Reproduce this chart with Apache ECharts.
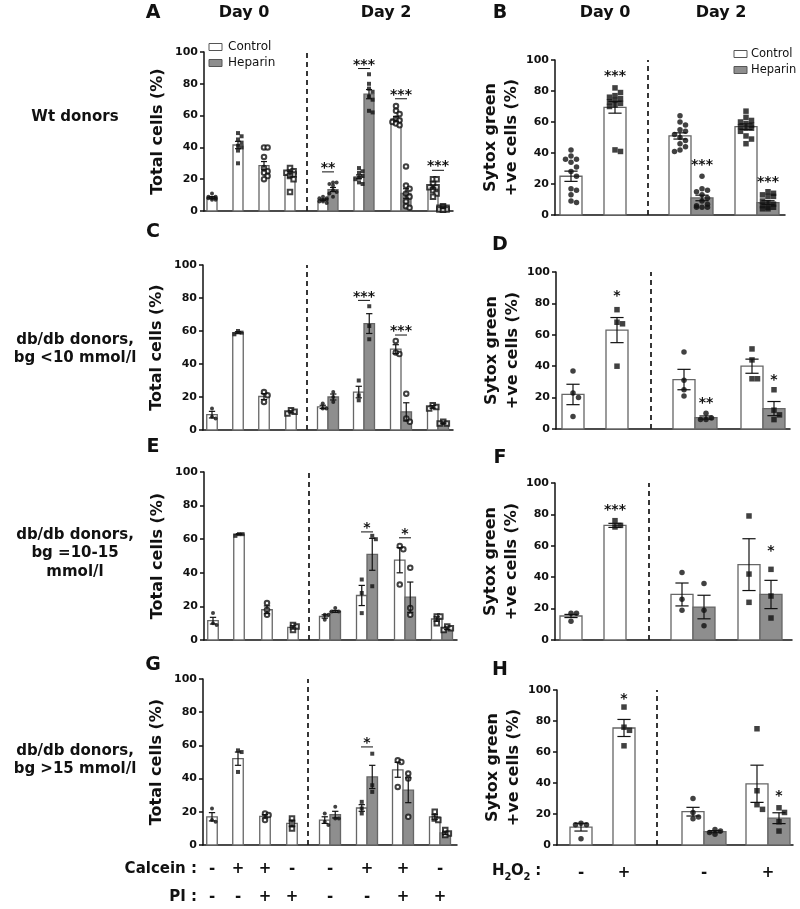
<!DOCTYPE html>
<html><head><meta charset="utf-8">
<script src="https://cdn.jsdelivr.net/npm/echarts@6/dist/echarts.min.js"></script>
<style>html,body{margin:0;padding:0;background:#fff}#c{width:800px;height:909px}</style>
</head><body><div id="c"></div>
<script>
// ---------------- DATA ----------------
// Bar order (left panels): Day0 bars 1-4, then Day2 pairs [Control, Heparin] x 4
// Bar order (right panels): Day0 bars 1-2, then Day2 pairs [Control, Heparin] x 2
const A_mean = [8.5, 41.5, 28.5, 23, 7, 13.5, 21.5, 73.5, 58, 11, 15, 1.8];
const A_sem  = [0.6, 2.3, 2.6, 1.7, 0.5, 1.3, 1.2, 2.9, 1.5, 3, 1.3, 0.3];
const A_pts  = [[11,9,9,8,8,8,7,7],[49,47,45,43,41,40,38,30],[40,40,34,27,25,24,22,20],[27,25,24,24,23,22,20,12],
                [9,8,8,7,7,6,6,5],[18,18,17,16,13,12,11,9],[27,25,24,22,21,20,18,17],[86,80,77,75,72,70,63,62],
                [66,63,61,58,57,56,55,54],[28,16,14,11,9,6,3,2],[20,20,17,15,15,13,11,9],[3,2,2,2,1,1,1,1]];
const A_sig  = [[4,5,'**',29],[6,7,'***',94],[8,9,'***',75],[10,11,'***',30]];

const B_mean = [25, 69.5, 51, 11, 57, 8];
const B_sem  = [3.3, 3.8, 2, 1.8, 1.8, 1.2];
const B_pts  = [[42,38,36,36,34,31,28,25,17,16,13,9,8],[82,79,77,76,75,74,73,72,71,70,41,42],
                [64,60,58,55,54,52,50,48,46,44,42,41],[25,17,16,15,13,11,9,7,6,5,5,5],
                [67,63,61,60,59,58,57,56,56,54,51,49,46],[15,14,13,12,12,9,8,7,6,5,5,4,4]];
const B_sig  = [[1,1,'***',91.6],[3,3,'***',34],[5,5,'***',23]];

const C_mean = [9.3, 59, 20.3, 11, 14, 20, 23, 64.5, 49, 11, 14, 4.3];
const C_sem  = [2, 0.6, 1.8, 0.6, 1, 1.8, 3.5, 6, 2.7, 5.5, 0.8, 0.5];
const C_pts  = [[13,8,7],[60,59,58],[23,21,17],[12,11,10],[16,13,13],[23,20,17],
                [30,21,18],[75,63,55],[54,47,46],[22,7,5],[15,14,13],[5,4,4]];
const C_sig  = [[6,7,'***',82.8],[8,9,'***',61.8]];

const D_mean = [22, 63, 31.5, 7.3, 40, 13];
const D_sem  = [6.5, 8, 6.5, 1, 4.5, 4.5];
const D_pts  = [[37,23,20,8],[76,68,67,40],[49,31,25,21],[10,7,6,6],[51,44,32,32],[25,12,9,6]];
const D_sig  = [[1,1,'*',86.4],[3,3,'**',18.5],[5,5,'*',33.3]];

const E_mean = [11.5, 63, 18, 7.5, 14, 17, 26.5, 51, 47.5, 25.5, 12.5, 7];
const E_sem  = [2, 0.3, 2.3, 1, 1, 0.6, 6, 9.5, 7.5, 9, 1.3, 0.8];
const E_pts  = [[16,10,9],[63,63,62],[22,18,15],[9,8,6],[15,15,12],[19,17,17],
                [36,28,16],[62,60,32],[56,54,33],[43,19,15],[14,14,10],[8,7,6]];
const E_sig  = [[6,7,'*',68.5],[8,9,'*',65]];

const F_mean = [15.3, 73, 29, 21, 48, 29];
const F_sem  = [1, 1.3, 7.3, 7.5, 16.5, 9];
const F_pts  = [[17,17,12],[76,73,72],[43,26,19],[36,19,9],[79,42,24],[45,28,14]];
const F_sig  = [[1,1,'***',84.9],[5,5,'*',58.4]];

const G_mean = [17, 52, 17.3, 13, 15, 18.3, 22.3, 41, 45.3, 33, 17, 7.3];
const G_sem  = [2.5, 4, 1, 2, 2, 2, 2, 7, 4.5, 7.5, 1.5, 1];
const G_pts  = [[22,15,14],[57,56,44],[19,18,15],[16,13,10],[19,14,12],[23,16,16],
                [26,22,19],[55,36,32],[51,50,35],[43,40,17],[20,16,15],[9,7,6]];
const G_sig  = [[6,7,'*',63.3]];

const H_mean = [11.5, 75.5, 21.5, 8.6, 39.5, 17.3];
const H_sem  = [2.5, 5.5, 2.8, 0.7, 12, 3.5];
const H_pts  = [[14,13,13,4],[89,76,74,64],[30,21,18,17],[10,9,8,7],[75,35,26,23],[24,21,15,9]];
const H_sig  = [[1,1,'*',96],[5,5,'*',33.7]];

const calceinSigns = ['-', '+', '+', '-', '-', '+', '+', '-'];
const piSigns      = ['-', '-', '+', '+', '-', '-', '+', '+'];
const h2o2Signs    = ['-', '+', '-', '+'];
const legendNames  = ['Control', 'Heparin'];
const dayTitles    = ['Day 0', 'Day 2'];
const rowLabels    = [['Wt donors'], ['db/db donors,', 'bg <10 mmol/l'], ['db/db donors,', 'bg =10-15', 'mmol/l'], ['db/db donors,', 'bg >15 mmol/l']];

// ---------------- LAYOUT / STYLE ----------------
const FONT = '"DejaVu Sans", sans-serif';
const INK = '#111';
const HEP = '#8e8e8e';
const LEFT_MARK = ['circle','rect','emptyCircle','emptyRect','circle','circle','rect','rect','emptyCircle','emptyCircle','emptyRect','emptyRect'];
const LEFT_FILL = [0,0,0,0,0,1,0,1,0,1,0,1];
const RIGHT_MARK = ['circle','rect','circle','circle','rect','rect'];
const RIGHT_FILL = [0,0,0,1,0,1];
const TOTAL = 'Total cells (%)';
const SYTOX = 'Sytox green\n+ve cells (%)';

const panels = [
  {id:'A', grid:[204,52,249,159], side:'L', mean:A_mean, sem:A_sem, pts:A_pts, sig:A_sig, d0:[8,34,60,86], g:[124,160,197,234], dash:103, bw:10},
  {id:'B', grid:[555,60,230,155], side:'R', mean:B_mean, sem:B_sem, pts:B_pts, sig:B_sig, d0:[16,60], g:[136,202], dash:93, bw:22},
  {id:'C', grid:[203,265,250,165], side:'L', mean:C_mean, sem:C_sem, pts:C_pts, sig:C_sig, d0:[9,35,61,88], g:[125,161,198,235], dash:104, bw:10.5},
  {id:'D', grid:[556,272,234,157], side:'R', mean:D_mean, sem:D_sem, pts:D_pts, sig:D_sig, d0:[17,61], g:[139,207], dash:95, bw:22},
  {id:'E', grid:[204,472,253,168], side:'L', mean:E_mean, sem:E_sem, pts:E_pts, sig:E_sig, d0:[9,35,63,89], g:[126,163,201,238], dash:105, bw:10.5},
  {id:'F', grid:[555,483,237,157], side:'R', mean:F_mean, sem:F_sem, pts:F_pts, sig:F_sig, d0:[16,60], g:[138,205], dash:94, bw:22},
  {id:'G', grid:[203,679,254,166], side:'L', mean:G_mean, sem:G_sem, pts:G_pts, sig:G_sig, d0:[9,35,62,89], g:[127,164,200,237], dash:105, bw:10.5},
  {id:'H', grid:[557,690,236,155], side:'R', mean:H_mean, sem:H_sem, pts:H_pts, sig:H_sig, d0:[24,67], g:[147,211], dash:100, bw:22}
];

function barPositions(p){
  const xs = p.d0.slice();
  p.g.forEach(c => { xs.push(c - p.bw/2, c + p.bw/2); });
  return xs;
}

// simple beeswarm in pixel space (layout only)
function swarm(values, center, sz, pxPerUnit, maxOff, gap){
  const placed = [];
  const out = new Array(values.length);
  const order = values.map((v,i)=>i).sort((a,b)=>values[b]-values[a]);
  const step = sz*gap;
  const cands = [0];
  for(let k=1;k*step<=maxOff+0.01;k++){ cands.push(k*step, -k*step); }
  order.forEach(i=>{
    const py = values[i]*pxPerUnit;
    let best = null, bestD = -1;
    for(const off of cands){
      let md = Infinity;
      for(const q of placed){ md = Math.min(md, Math.hypot(q[0]-off, q[1]-py)); }
      if(md >= sz*gap){ best = off; bestD = md; break; }
      if(md > bestD){ bestD = md; best = off; }
    }
    placed.push([best, py]);
    out[i] = center + best;
  });
  return out;
}

const grids=[], xAxes=[], yAxes=[], series=[];
panels.forEach((p, gi) => {
  const [l,t,w,h] = p.grid;
  const xs = barPositions(p);
  p.xs = xs;
  const marks = p.side==='L' ? LEFT_MARK : RIGHT_MARK;
  const fills = p.side==='L' ? LEFT_FILL : RIGHT_FILL;
  grids.push({left:l, top:t, width:w, height:h});
  xAxes.push({gridIndex:gi, type:'value', min:0, max:w,
    axisLine:{show:true, onZero:false, lineStyle:{color:INK, width:1.5}},
    axisTick:{show:false}, axisLabel:{show:false}, splitLine:{show:false}});
  yAxes.push({gridIndex:gi, type:'value', min:0, max:100, interval:20,
    axisLine:{show:true, lineStyle:{color:INK, width:1.5}},
    axisTick:{show:true, length:4, lineStyle:{color:INK, width:1.5}},
    axisLabel:{margin:6, color:INK, fontFamily:FONT, fontWeight:'bold', fontSize:11},
    splitLine:{show:false},
    name: p.side==='L' ? TOTAL : SYTOX, nameLocation:'middle', nameRotate:90,
    nameGap: p.side==='L' ? 36 : 29,
    nameTextStyle:{fontFamily:FONT, fontWeight:'bold', fontSize:16, color:INK, lineHeight:21}});

  // bars
  series.push({type:'custom', xAxisIndex:gi, yAxisIndex:gi, z:2, silent:true,
    data: p.mean.map((m,i)=>[xs[i], m]),
    encode:{x:0, y:1},
    renderItem:(params, api)=>{
      const i = params.dataIndex;
      const top = api.coord([api.value(0), api.value(1)]);
      const base = api.coord([api.value(0), 0]);
      const bw = api.size([p.bw, 0])[0];
      return {type:'rect', shape:{x:top[0]-bw/2, y:top[1], width:bw, height:base[1]-top[1]},
        style:{fill: fills[i] ? HEP : '#fff', stroke:'#666', lineWidth:1.3}};
    }});

  // points
  const sz = p.side==='L' ? 4 : 5.5;
  const byMark = {};
  p.pts.forEach((vals, i) => {
    const xsw = p.side==='L' ? swarm(vals, xs[i], sz, h/100, p.bw*0.6, 0.9)
                             : swarm(vals, xs[i], sz, h/100, p.bw*0.4, 1.0);
    const mk = marks[i];
    (byMark[mk] = byMark[mk] || []).push(...vals.map((v,k)=>[xsw[k], v]));
  });
  let first = true;
  Object.keys(byMark).forEach(mk => {
    const empty = mk.indexOf('empty')===0;
    const s = {type:'scatter', xAxisIndex:gi, yAxisIndex:gi, z:3, silent:true,
      symbol: mk, symbolSize: empty ? sz+0.5 : sz,
      itemStyle:{color:INK, borderColor:INK, borderWidth: empty ? 1 : 0},
      data: byMark[mk]};
    if(first){
      s.markLine = {silent:true, symbol:['none','none'], label:{show:false},
        lineStyle:{type:[5,4], color:'#222', width:1.8},
        data:[{xAxis:p.dash}]};
      first = false;
    }
    series.push(s);
  });

  // error bars
  series.push({type:'custom', xAxisIndex:gi, yAxisIndex:gi, z:4, silent:true,
    data: p.mean.map((m,i)=>[xs[i], m, p.sem[i]]),
    encode:{x:0, y:1},
    renderItem:(params, api)=>{
      const x = api.value(0), m = api.value(1), s = api.value(2);
      const hi = api.coord([x, m+s]), lo = api.coord([x, m-s]);
      const cw = api.size([p.bw, 0])[0]*0.6/2;
      const st = {stroke:INK, lineWidth:1.2};
      return {type:'group', children:[
        {type:'line', shape:{x1:hi[0], y1:hi[1], x2:lo[0], y2:lo[1]}, style:st},
        {type:'line', shape:{x1:hi[0]-cw, y1:hi[1], x2:hi[0]+cw, y2:hi[1]}, style:st},
        {type:'line', shape:{x1:lo[0]-cw, y1:lo[1], x2:lo[0]+cw, y2:lo[1]}, style:st}
      ]};
    }});

  // significance marks
  series.push({type:'custom', xAxisIndex:gi, yAxisIndex:gi, z:5, silent:true,
    data: p.sig.map(s=>[(xs[s[0]]+xs[s[1]])/2, s[3]]),
    encode:{x:0, y:1},
    renderItem:(params, api)=>{
      const s = p.sig[params.dataIndex];
      const c = api.coord([api.value(0), api.value(1)]);
      const kids = [{type:'text', x:c[0], y:c[1]+3.5,
        style:{text:s[2], font:'bold 14px '+FONT, fill:INK, align:'center', verticalAlign:'middle', textAlign:'center', textVerticalAlign:'middle'}}];
      if(s[0]!==s[1]){
        kids.push({type:'line', shape:{x1:c[0]-6, y1:c[1]+7, x2:c[0]+6, y2:c[1]+7}, style:{stroke:INK, lineWidth:1}});
      }
      return {type:'group', children:kids};
    }});
});

const chart = echarts.init(document.getElementById('c'), null, {renderer:'canvas'});
chart.setOption({animation:false, backgroundColor:'#fff', grid:grids, xAxis:xAxes, yAxis:yAxes, series:series});

// ---------------- TEXT / ANNOTATIONS ----------------
function txt(x, y, t, font, align){
  return {type:'text', x:x, y:y, silent:true,
    style:{text:t, font:font, fill:INK, align:align||'center', verticalAlign:'middle', textAlign:align||'center', textVerticalAlign:'middle'}};
}
const g = [];
const letterPos = {A:[153,13], B:[500,13], C:[153,232], D:[500,245], E:[153,447], F:[500,458], G:[153,665], H:[500,670]};
Object.keys(letterPos).forEach(k => g.push(txt(letterPos[k][0], letterPos[k][1], k, 'bold 19px '+FONT)));
// day titles
[[244,386],[605,721]].forEach(pair => pair.forEach((x,i)=>g.push(txt(x, 13, dayTitles[i], 'bold 16px '+FONT))));
// row labels
const rowY = [[117],[340,358],[535,553,572],[751,769]];
rowLabels.forEach((lines, r) => lines.forEach((s, k) => g.push(txt(75, rowY[r][k], s, 'bold 15px '+FONT))));
// legends
function legend(x, y, tx, font){
  [0,1].forEach(i=>{
    const yy = y + i*16;
    g.push({type:'rect', silent:true, shape:{x:x, y:yy-3.5, width:13, height:7}, style:{fill: i ? HEP : '#fff', stroke:'#555', lineWidth:1}});
    g.push(txt(x+tx, yy, legendNames[i], font, 'left'));
  });
}
legend(209, 47, 19, '12px '+FONT);
legend(734, 54, 17, '11.5px '+FONT);
// bottom condition labels
const Gp = panels[6], Hp = panels[7];
const gIdx = 6, hIdx = 7;
const gX = Gp.d0.concat(Gp.g).map(v => chart.convertToPixel({xAxisIndex:gIdx}, v));
g.push(txt(197, 869, 'Calcein :', 'bold 15px '+FONT, 'right'));
g.push(txt(197, 897, 'PI :', 'bold 15px '+FONT, 'right'));
calceinSigns.forEach((s,i)=>g.push(txt(gX[i], 869, s, 'bold 15px '+FONT)));
piSigns.forEach((s,i)=>g.push(txt(gX[i], 897, s, 'bold 15px '+FONT)));
const hX = Hp.d0.concat(Hp.g).map(v => chart.convertToPixel({xAxisIndex:hIdx}, v));
h2o2Signs.forEach((s,i)=>g.push(txt(hX[i], 873, s, 'bold 15px '+FONT)));
// H2O2 :
g.push(txt(492, 871, 'H', 'bold 15px '+FONT, 'left'));
g.push(txt(504.5, 877, '2', 'bold 10px '+FONT, 'left'));
g.push(txt(511, 871, 'O', 'bold 15px '+FONT, 'left'));
g.push(txt(523.5, 877, '2', 'bold 10px '+FONT, 'left'));
g.push(txt(530, 871, ' :', 'bold 15px '+FONT, 'left'));
chart.setOption({graphic:{elements:g}});
</script></body></html>
